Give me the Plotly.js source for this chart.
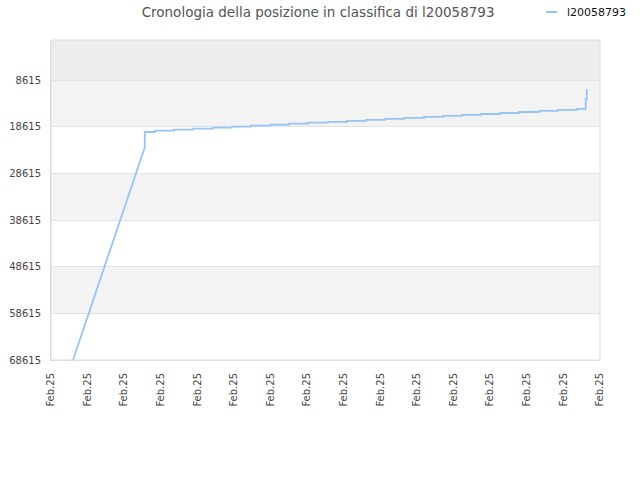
<!DOCTYPE html>
<html>
<head>
<meta charset="utf-8">
<script src="https://cdn.plot.ly/plotly-3.0.1.min.js"></script>
<style>
  body { margin: 0; background: #fff; }
  #myDiv { width: 640px; height: 480px; }
</style>
</head>
<body>
<div id="myDiv"></div>
<script>
// rank history (first point is the entry, then the jump, then steps)
var dates = [
  '2025-02-01 14:25', '2025-02-03 13:30', '2025-02-03 13:30',
  '2025-02-03 20:12', '2025-02-04 08:40', '2025-02-04 21:07', '2025-02-05 10:14',
  '2025-02-05 22:41', '2025-02-06 11:08', '2025-02-06 23:37', '2025-02-07 12:04',
  '2025-02-08 00:32', '2025-02-08 13:38', '2025-02-09 02:05', '2025-02-09 14:34',
  '2025-02-10 03:01', '2025-02-10 15:29', '2025-02-11 04:35', '2025-02-11 17:02',
  '2025-02-12 05:31', '2025-02-12 17:58', '2025-02-13 06:26', '2025-02-13 18:53',
  '2025-02-14 08:00', '2025-02-14 20:27', '2025-02-15 08:55', '2025-02-15 14:37',
  '2025-02-15 15:17'
];
var ranks = [
  68615, 23007, 19727,
  19448, 19234, 19019, 18805,
  18590, 18376, 18161, 17947,
  17732, 17561, 17347, 17132,
  16918, 16703, 16489, 16275,
  16060, 15867, 15653, 15439,
  15203, 14988, 14774, 12651,
  10507
];
var yTicks = [8615, 18615, 28615, 38615, 48615, 58615, 68615];
var xTicks = [
  '2025-02-01', '2025-02-02', '2025-02-03', '2025-02-04', '2025-02-05', '2025-02-06',
  '2025-02-07', '2025-02-08', '2025-02-09', '2025-02-10', '2025-02-11', '2025-02-12',
  '2025-02-13', '2025-02-14', '2025-02-15', '2025-02-16'
];
var seriesName = 'l20058793';
var lineColor = 'rgb(150,196,245)';

// expand into steps after the first jump
var xs = [], ys = [];
for (var i = 0; i < dates.length; i++) {
  xs.push(dates[i]); ys.push(ranks[i]);
  if (i >= 2 && i + 1 < dates.length) {
    xs.push(dates[i + 1]); ys.push(ranks[i]);
  }
}

var trace = {
  x: xs, y: ys,
  type: 'scatter',
  mode: 'lines',
  name: seriesName,
  line: { color: lineColor, width: 1.8 },
  showlegend: false
};

// alternating horizontal bands between the ticks
var bandColors = ['#ededed', '#f3f3f3', '#ffffff', '#f3f3f3', '#ffffff', '#f3f3f3', '#ffffff'];
var edges = [0].concat(yTicks);
var shapes = [];
for (var k = 0; k < edges.length - 1; k++) {
  shapes.push({
    type: 'rect', xref: 'paper', yref: 'y', layer: 'below',
    x0: 0, x1: 1, y0: edges[k], y1: edges[k + 1],
    fillcolor: bandColors[k], line: { width: 0 }
  });
}
shapes.push({
  type: 'rect', xref: 'paper', yref: 'paper', layer: 'above',
  x0: 0, x1: 1, y0: 0, y1: 1,
  line: { color: '#dddddd', width: 1 }
});
// small legend swatch, top right
shapes.push({
  type: 'line', xref: 'paper', yref: 'paper',
  x0: 0.9016, x1: 0.9217, y0: 1.0875, y1: 1.0875,
  line: { color: lineColor, width: 2 }
});

var layout = {
  width: 640, height: 480,
  margin: { l: 51, r: 40, t: 40, b: 120 },
  paper_bgcolor: '#ffffff',
  plot_bgcolor: '#ffffff',
  font: { family: 'DejaVu Sans', size: 10, color: '#444' },
  title: {
    text: 'Cronologia della posizione in classifica di ' + seriesName,
    font: { family: 'DejaVu Sans', size: 13.5, color: '#555' },
    x: 0.497, xanchor: 'center', y: 0.975, yanchor: 'middle'
  },
  showlegend: false,
  annotations: [{
    xref: 'paper', yref: 'paper',
    x: 0.937, y: 1.0875, xanchor: 'left', yanchor: 'middle',
    text: seriesName, showarrow: false,
    font: { family: 'DejaVu Sans', size: 11, color: '#111' }
  }],
  xaxis: {
    type: 'date',
    range: [xTicks[0], xTicks[xTicks.length - 1]],
    tickvals: xTicks,
    tickformat: '%b.%y',
    tickangle: -90,
    showgrid: false,
    zeroline: false,
    showline: true, linecolor: '#dddddd',
    ticks: '', ticklen: 0,
    ticklabelstandoff: 8,
    tickfont: { size: 10, color: '#444' },
    fixedrange: true
  },
  yaxis: {
    range: [68615, 0],
    tickvals: yTicks,
    ticktext: yTicks.map(String),
    showgrid: true, gridcolor: '#e2e2e2',
    zeroline: false,
    showline: true, linecolor: '#dddddd',
    ticks: '',
    ticklabelstandoff: 7,
    tickfont: { size: 10, color: '#444' },
    fixedrange: true
  },
  shapes: shapes
};

Plotly.newPlot('myDiv', [trace], layout, { displayModeBar: false, staticPlot: true });
</script>
</body>
</html>
